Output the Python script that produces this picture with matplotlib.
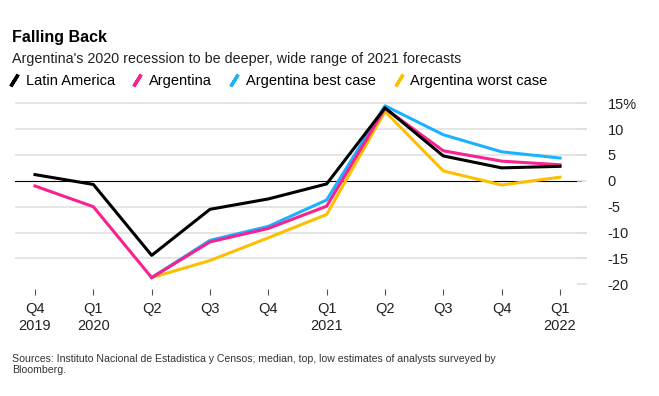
import matplotlib.pyplot as plt
from matplotlib.lines import Line2D

plt.rcParams['font.family'] = ['Liberation Sans', 'DejaVu Sans']

quarters = ["Q4\n2019", "Q1\n2020", "Q2", "Q3", "Q4", "Q1\n2021", "Q2", "Q3", "Q4", "Q1\n2022"]
latam = [1.2, -0.7, -14.4, -5.5, -3.5, -0.6, 14.1, 4.8, 2.5, 2.8]
argentina = [-1.0, -5.0, -18.7, -11.8, -9.2, -4.9, 14.0, 5.8, 3.8, 3.1]
# forecast ranges start at Q2 2020 (index 2)
best_case = [-18.7, -11.5, -8.8, -3.7, 14.5, 8.9, 5.6, 4.4]
worst_case = [-18.7, -15.4, -11.0, -6.5, 13.4, 1.9, -0.8, 0.7]
yticks = [-20, -15, -10, -5, 0, 5, 10, 15]
ylabels = ["-20", "-15", "-10", "-5", "0", "5", "10", "15%"]

names = ["Latin America", "Argentina", "Argentina best case", "Argentina worst case"]
colors = ["#000000", "#f7218f", "#1ab2ff", "#fcc000"]

fig = plt.figure(figsize=(6.59, 3.96), dpi=100)
ax = fig.add_axes([15/659, 1 - 289/396, (587-15)/659, (289-98)/396])

x = list(range(len(quarters)))
xf = x[2:]

for v in yticks[1:]:
    if v != 0:
        ax.axhline(v, color="#dedede", lw=1.1, zorder=0)
ax.axhline(0, color="black", lw=0.8, xmax=(581-15)/(587-15), zorder=1)

ax.plot(xf, worst_case, color=colors[3], lw=2.2, zorder=2)
ax.plot(xf, best_case, color=colors[2], lw=2.2, zorder=3)
ax.plot(x, argentina, color=colors[1], lw=2.2, zorder=4)
ax.plot(x, latam, color=colors[0], lw=2.2, zorder=5)

ax.set_xlim(-20/58.33, 9 + 27/58.33)
ax.set_ylim(-20.9, 16)
for s in ax.spines.values():
    s.set_visible(False)

ax.yaxis.tick_right()
ax.set_yticks(yticks)
ax.set_yticklabels(ylabels)
ax.tick_params(axis='y', direction='in', length=7, color="#dedede", width=1.1,
               pad=15, labelsize=10.5, labelcolor="#222222")
ax.set_xticks(x)
ax.set_xticklabels(quarters, linespacing=1.3)
ax.tick_params(axis='x', direction='out', length=4, color="#555555", width=0.8,
               pad=5, labelsize=10.5, labelcolor="#222222")

fig.text(12/659, 1 - 42/396, "Falling Back", fontsize=11.5, fontweight='bold')
fig.text(12/659, 1 - 63/396, "Argentina's 2020 recession to be deeper, wide range of 2021 forecasts",
         fontsize=10.3, color="#222222")

handles = [Line2D([], [], marker=(2, 2, -32), linestyle='none', markersize=10,
                  markeredgewidth=2.4, color=c) for c in colors]
fig.legend(handles, names, loc='center left', bbox_to_anchor=(8/659, 1 - 81/396),
           ncol=4, frameon=False, fontsize=10.5, handlelength=0.8, handletextpad=0.4,
           columnspacing=1.15, borderaxespad=0, borderpad=0)

fig.text(12/659, 1 - 373/396,
         "Sources: Instituto Nacional de Estadistica y Censos; median, top, low estimates of analysts surveyed by\nBloomberg.",
         fontsize=7.6, color="#333333", linespacing=1.15)

fig.savefig("out.png", dpi=100)
